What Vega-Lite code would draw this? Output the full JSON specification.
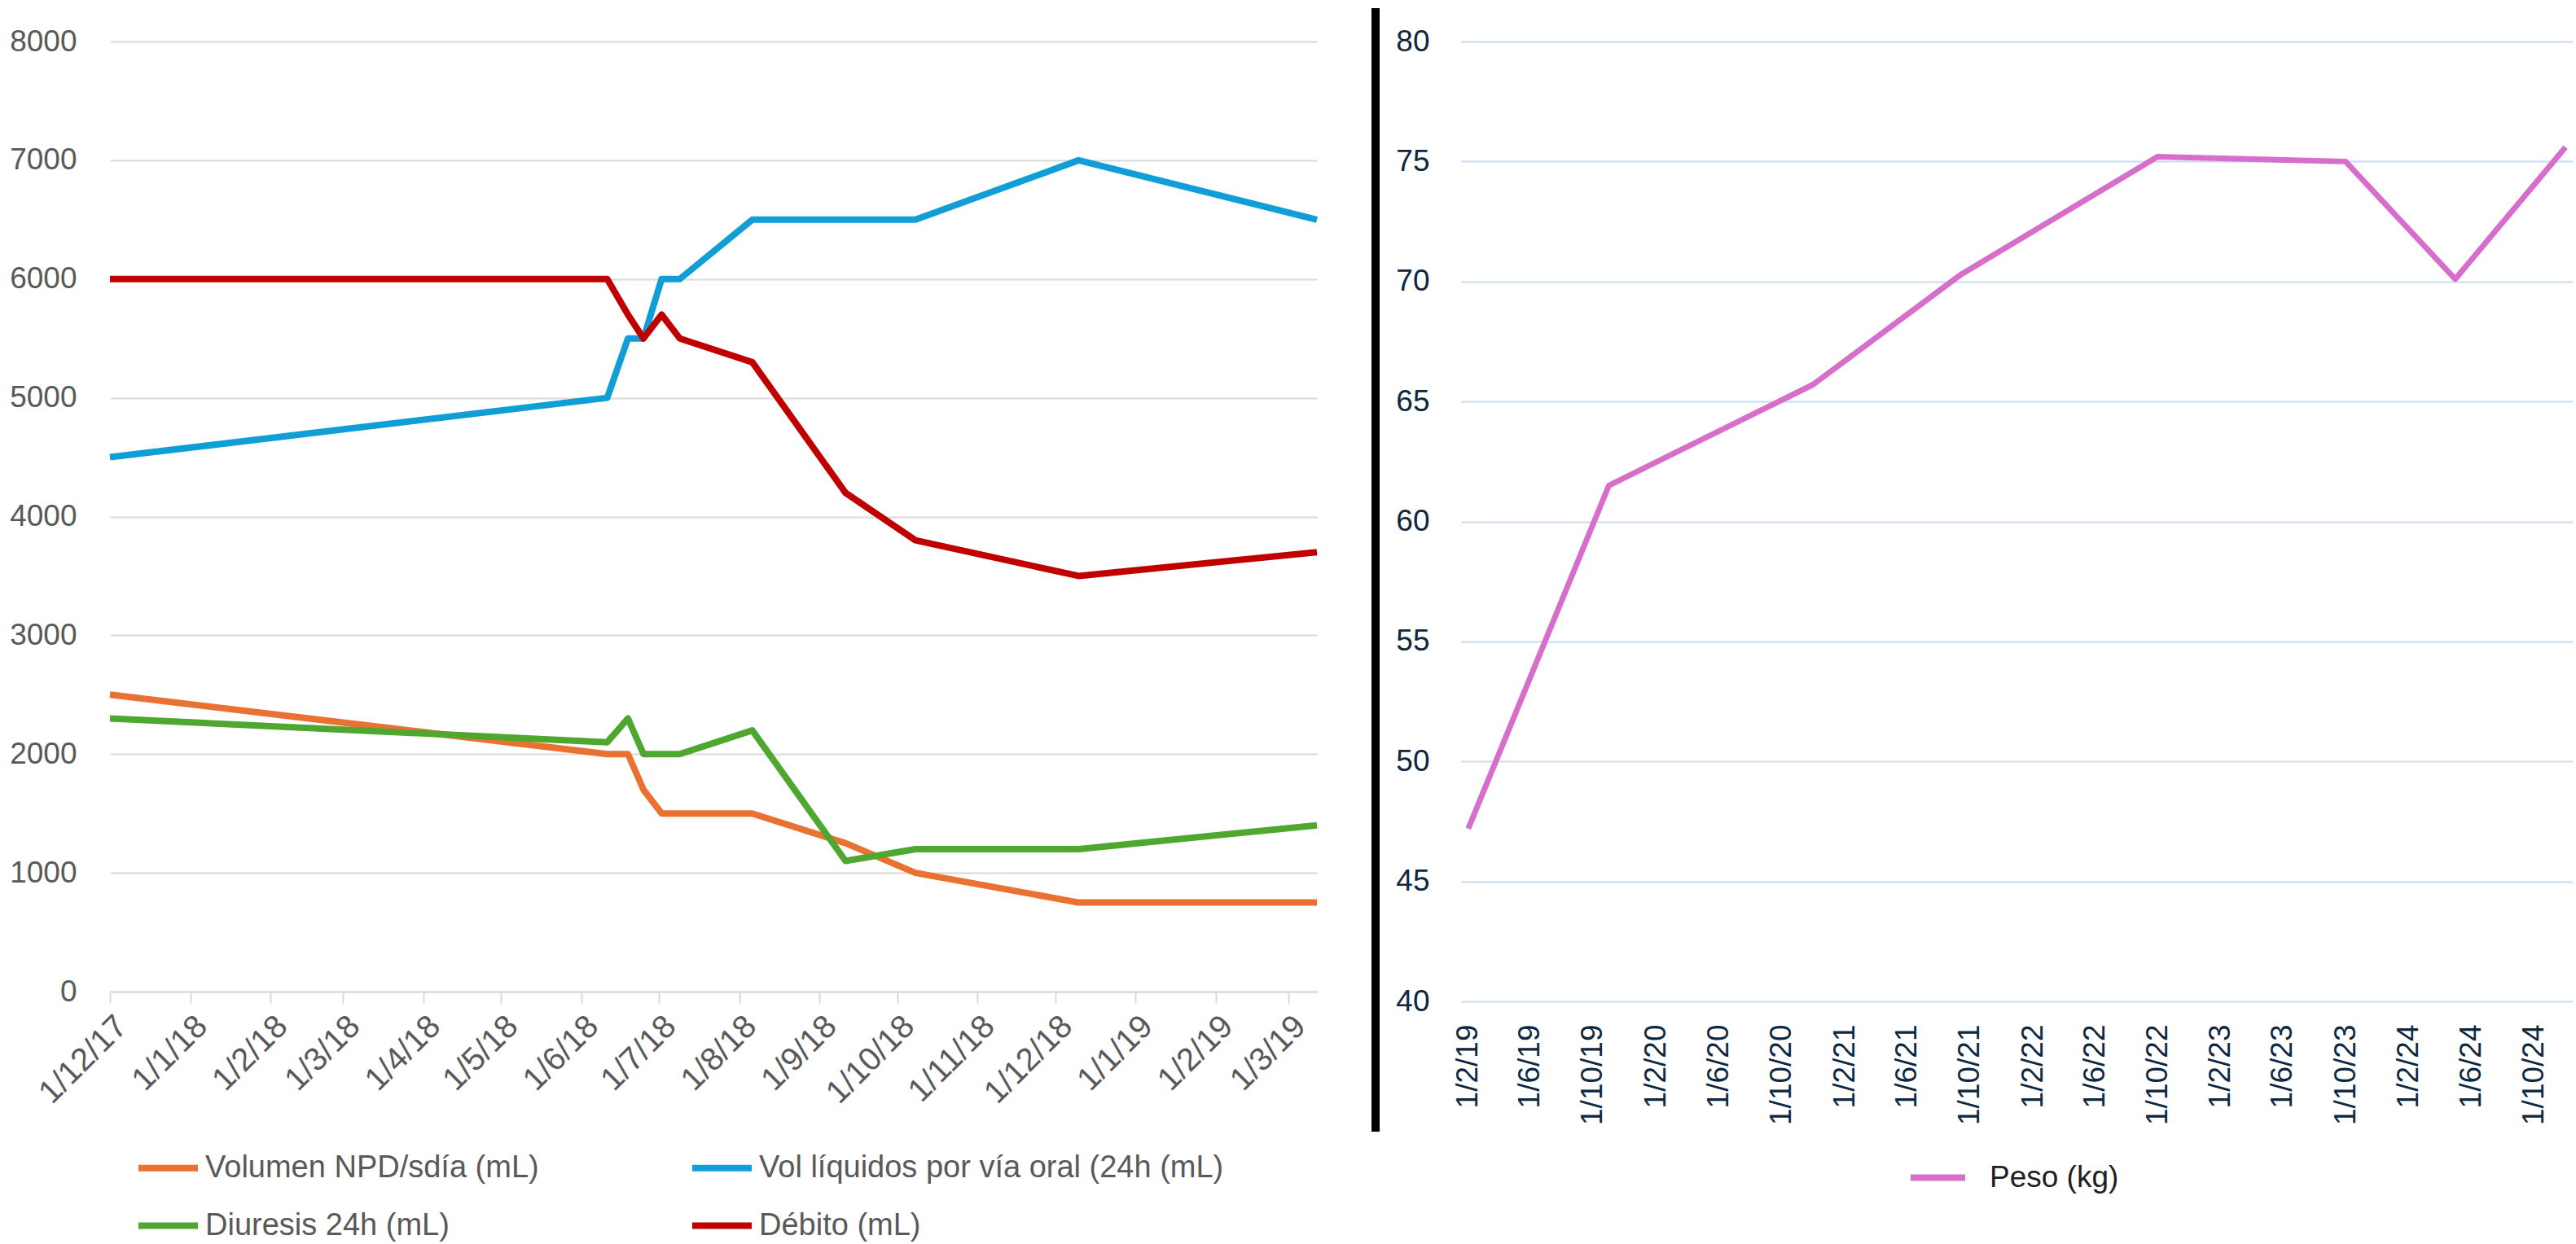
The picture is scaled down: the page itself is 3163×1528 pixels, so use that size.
{
  "$schema": "https://vega.github.io/schema/vega-lite/v6.json",
  "padding": {"left": 11, "top": 5, "right": 0, "bottom": 0},
  "bounds": "flush",
  "spacing": 177,
  "config": {
    "view": {"stroke": null},
    "font": "Liberation Sans",
    "axis": {"labelFont": "Liberation Sans", "titleFont": "Liberation Sans"},
    "legend": {"labelFont": "Liberation Sans"}
  },
  "resolve": {"scale": {"color": "independent"}, "legend": {"color": "independent"}},
  "hconcat": [
    {
      "width": 1482,
      "height": 1167,
      "data": {
        "values": [
          {"date": "2017-12-01", "serie": "Volumen NPD/sdía (mL)", "value": 2500},
          {"date": "2018-06-11", "serie": "Volumen NPD/sdía (mL)", "value": 2000},
          {"date": "2018-06-19", "serie": "Volumen NPD/sdía (mL)", "value": 2000},
          {"date": "2018-06-25", "serie": "Volumen NPD/sdía (mL)", "value": 1700},
          {"date": "2018-07-02", "serie": "Volumen NPD/sdía (mL)", "value": 1500},
          {"date": "2018-07-09", "serie": "Volumen NPD/sdía (mL)", "value": 1500},
          {"date": "2018-08-06", "serie": "Volumen NPD/sdía (mL)", "value": 1500},
          {"date": "2018-09-11", "serie": "Volumen NPD/sdía (mL)", "value": 1250},
          {"date": "2018-10-08", "serie": "Volumen NPD/sdía (mL)", "value": 1000},
          {"date": "2018-12-10", "serie": "Volumen NPD/sdía (mL)", "value": 750},
          {"date": "2019-03-12", "serie": "Volumen NPD/sdía (mL)", "value": 750},
          {"date": "2017-12-01", "serie": "Vol líquidos por vía oral (24h (mL)", "value": 4500},
          {"date": "2018-06-11", "serie": "Vol líquidos por vía oral (24h (mL)", "value": 5000},
          {"date": "2018-06-19", "serie": "Vol líquidos por vía oral (24h (mL)", "value": 5500},
          {"date": "2018-06-25", "serie": "Vol líquidos por vía oral (24h (mL)", "value": 5500},
          {"date": "2018-07-02", "serie": "Vol líquidos por vía oral (24h (mL)", "value": 6000},
          {"date": "2018-07-09", "serie": "Vol líquidos por vía oral (24h (mL)", "value": 6000},
          {"date": "2018-08-06", "serie": "Vol líquidos por vía oral (24h (mL)", "value": 6500},
          {"date": "2018-09-11", "serie": "Vol líquidos por vía oral (24h (mL)", "value": 6500},
          {"date": "2018-10-08", "serie": "Vol líquidos por vía oral (24h (mL)", "value": 6500},
          {"date": "2018-12-10", "serie": "Vol líquidos por vía oral (24h (mL)", "value": 7000},
          {"date": "2019-03-12", "serie": "Vol líquidos por vía oral (24h (mL)", "value": 6500},
          {"date": "2017-12-01", "serie": "Diuresis 24h (mL)", "value": 2300},
          {"date": "2018-06-11", "serie": "Diuresis 24h (mL)", "value": 2100},
          {"date": "2018-06-19", "serie": "Diuresis 24h (mL)", "value": 2300},
          {"date": "2018-06-25", "serie": "Diuresis 24h (mL)", "value": 2000},
          {"date": "2018-07-02", "serie": "Diuresis 24h (mL)", "value": 2000},
          {"date": "2018-07-09", "serie": "Diuresis 24h (mL)", "value": 2000},
          {"date": "2018-08-06", "serie": "Diuresis 24h (mL)", "value": 2200},
          {"date": "2018-09-11", "serie": "Diuresis 24h (mL)", "value": 1100},
          {"date": "2018-10-08", "serie": "Diuresis 24h (mL)", "value": 1200},
          {"date": "2018-12-10", "serie": "Diuresis 24h (mL)", "value": 1200},
          {"date": "2019-03-12", "serie": "Diuresis 24h (mL)", "value": 1400},
          {"date": "2017-12-01", "serie": "Débito (mL)", "value": 6000},
          {"date": "2018-06-11", "serie": "Débito (mL)", "value": 6000},
          {"date": "2018-06-19", "serie": "Débito (mL)", "value": 5700},
          {"date": "2018-06-25", "serie": "Débito (mL)", "value": 5500},
          {"date": "2018-07-02", "serie": "Débito (mL)", "value": 5700},
          {"date": "2018-07-09", "serie": "Débito (mL)", "value": 5500},
          {"date": "2018-08-06", "serie": "Débito (mL)", "value": 5300},
          {"date": "2018-09-11", "serie": "Débito (mL)", "value": 4200},
          {"date": "2018-10-08", "serie": "Débito (mL)", "value": 3800},
          {"date": "2018-12-10", "serie": "Débito (mL)", "value": 3500},
          {"date": "2019-03-12", "serie": "Débito (mL)", "value": 3700}
        ],
        "format": {"parse": {"date": "date:'%Y-%m-%d'"}}
      },
      "mark": {"type": "line", "strokeWidth": 8, "strokeJoin": "round"},
      "encoding": {
        "x": {
          "field": "date",
          "type": "temporal",
          "scale": {
            "domain": [{"year": 2017, "month": 12, "date": 1}, {"year": 2019, "month": 3, "date": 12}],
            "nice": false
          },
          "axis": {
            "title": null,
            "format": "%-d/%-m/%y",
            "values": [
              {"year": 2017, "month": 12, "date": 1},
              {"year": 2018, "month": 1, "date": 1},
              {"year": 2018, "month": 2, "date": 1},
              {"year": 2018, "month": 3, "date": 1},
              {"year": 2018, "month": 4, "date": 1},
              {"year": 2018, "month": 5, "date": 1},
              {"year": 2018, "month": 6, "date": 1},
              {"year": 2018, "month": 7, "date": 1},
              {"year": 2018, "month": 8, "date": 1},
              {"year": 2018, "month": 9, "date": 1},
              {"year": 2018, "month": 10, "date": 1},
              {"year": 2018, "month": 11, "date": 1},
              {"year": 2018, "month": 12, "date": 1},
              {"year": 2019, "month": 1, "date": 1},
              {"year": 2019, "month": 2, "date": 1},
              {"year": 2019, "month": 3, "date": 1}
            ],
            "labelAngle": -45,
            "labelFontSize": 40,
            "labelColor": "#595959",
            "labelPadding": 8,
            "labelOverlap": false,
            "labelFlush": false,
            "grid": false,
            "domainColor": "#D9D9D9",
            "domainWidth": 2,
            "tickColor": "#D9D9D9",
            "tickWidth": 2,
            "tickSize": 14
          }
        },
        "y": {
          "field": "value",
          "type": "quantitative",
          "scale": {"domain": [0, 8000], "nice": false},
          "axis": {
            "title": null,
            "values": [0, 1000, 2000, 3000, 4000, 5000, 6000, 7000, 8000],
            "format": "d",
            "labelFontSize": 37,
            "labelColor": "#595959",
            "labelPadding": 41,
            "domain": false,
            "ticks": false,
            "gridColor": "#D9D9D9",
            "gridWidth": 2
          }
        },
        "color": {
          "field": "serie",
          "type": "nominal",
          "scale": {
            "domain": ["Volumen NPD/sdía (mL)", "Vol líquidos por vía oral (24h (mL)", "Diuresis 24h (mL)", "Débito (mL)"],
            "range": ["#E97132", "#0F9ED5", "#4EA72E", "#C00000"]
          },
          "legend": {
            "title": null,
            "orient": "none",
            "legendX": 31,
            "legendY": 1343,
            "direction": "horizontal",
            "columns": 2,
            "columnPadding": 172,
            "rowPadding": 11,
            "symbolType": "stroke",
            "symbolSize": 5329,
            "symbolStrokeWidth": 8,
            "labelFontSize": 38,
            "labelColor": "#595959",
            "labelOffset": 5,
            "labelLimit": 2000
          }
        }
      }
    },
    {
      "width": 1365,
      "height": 1179,
      "data": {
        "values": [
          {"date": "2019-02-01", "serie": "Peso (kg)", "peso": 47.2},
          {"date": "2019-11-01", "serie": "Peso (kg)", "peso": 61.5},
          {"date": "2020-12-01", "serie": "Peso (kg)", "peso": 65.7},
          {"date": "2021-09-15", "serie": "Peso (kg)", "peso": 70.3},
          {"date": "2022-10-01", "serie": "Peso (kg)", "peso": 75.2},
          {"date": "2023-10-01", "serie": "Peso (kg)", "peso": 75.0},
          {"date": "2024-05-01", "serie": "Peso (kg)", "peso": 70.1},
          {"date": "2024-12-01", "serie": "Peso (kg)", "peso": 75.6}
        ],
        "format": {"parse": {"date": "date:'%Y-%m-%d'"}}
      },
      "layer": [
        {
          "mark": {"type": "line", "strokeWidth": 7, "strokeJoin": "round"},
          "encoding": {
            "x": {
              "field": "date",
              "type": "temporal",
              "scale": {
                "domain": [{"year": 2019, "month": 1, "date": 18}, {"year": 2024, "month": 12, "date": 15}],
                "nice": false
              },
              "axis": {
                "title": null,
                "format": "%-d/%-m/%y",
                "values": [
                  {"year": 2019, "month": 2, "date": 1},
                  {"year": 2019, "month": 6, "date": 1},
                  {"year": 2019, "month": 10, "date": 1},
                  {"year": 2020, "month": 2, "date": 1},
                  {"year": 2020, "month": 6, "date": 1},
                  {"year": 2020, "month": 10, "date": 1},
                  {"year": 2021, "month": 2, "date": 1},
                  {"year": 2021, "month": 6, "date": 1},
                  {"year": 2021, "month": 10, "date": 1},
                  {"year": 2022, "month": 2, "date": 1},
                  {"year": 2022, "month": 6, "date": 1},
                  {"year": 2022, "month": 10, "date": 1},
                  {"year": 2023, "month": 2, "date": 1},
                  {"year": 2023, "month": 6, "date": 1},
                  {"year": 2023, "month": 10, "date": 1},
                  {"year": 2024, "month": 2, "date": 1},
                  {"year": 2024, "month": 6, "date": 1},
                  {"year": 2024, "month": 10, "date": 1}
                ],
                "labelAngle": -90,
                "labelFontSize": 37,
                "labelColor": "#0E2841",
                "labelPadding": 28,
                "labelOverlap": false,
                "labelFlush": false,
                "grid": false,
                "domain": false,
                "ticks": false
              }
            },
            "y": {
              "field": "peso",
              "type": "quantitative",
              "scale": {"domain": [40, 80], "nice": false, "zero": false},
              "axis": {
                "title": null,
                "values": [40, 45, 50, 55, 60, 65, 70, 75, 80],
                "labelFontSize": 37,
                "labelColor": "#0E2841",
                "labelPadding": 39,
                "domain": false,
                "ticks": false,
                "gridColor": "#C6DCF0",
                "gridWidth": 2
              }
            },
            "color": {
              "field": "serie",
              "type": "nominal",
              "scale": {"domain": ["Peso (kg)"], "range": ["#D86ECC"]},
              "legend": {
                "title": null,
                "orient": "none",
                "legendX": 548,
                "legendY": 1358,
                "symbolType": "stroke",
                "symbolSize": 4489,
                "symbolStrokeWidth": 8,
                "labelFontSize": 37,
                "labelColor": "#1F1F1F",
                "labelOffset": 26,
                "labelLimit": 2000
              }
            }
          }
        },
        {
          "data": {"values": [{}]},
          "mark": {"type": "rule", "color": "#000000", "strokeWidth": 10},
          "encoding": {
            "x": {"datum": {"year": 2018, "month": 8, "date": 5}, "type": "temporal"},
            "y": {"datum": 81.39, "type": "quantitative"},
            "y2": {"datum": 34.57}
          }
        }
      ]
    }
  ]
}
